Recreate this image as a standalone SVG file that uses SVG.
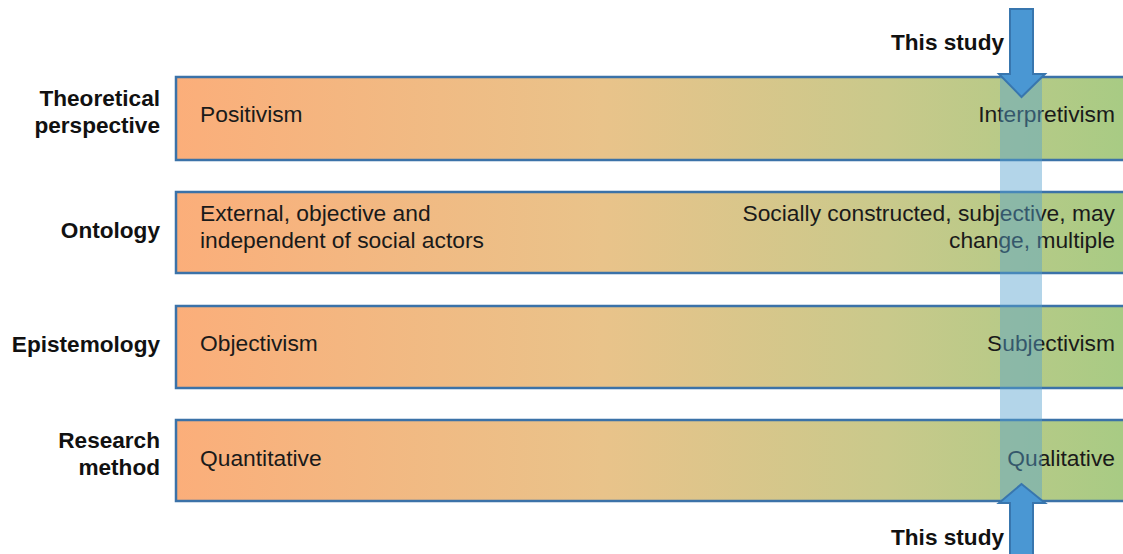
<svg xmlns="http://www.w3.org/2000/svg" width="1123" height="554" viewBox="0 0 1123 554">
  <defs>
    <linearGradient id="spectrum" gradientUnits="userSpaceOnUse" x1="176" y1="0" x2="1123" y2="0">
      <stop offset="0" stop-color="#fbae7a"/>
      <stop offset="0.45" stop-color="#e9c38a"/>
      <stop offset="0.75" stop-color="#c9c98b"/>
      <stop offset="1" stop-color="#a8cb84"/>
    </linearGradient>
  </defs>
  <style>
    .bar { fill: url(#spectrum); stroke: #3b72a8; stroke-width: 2.5; }
    .lbl { font-family: "Liberation Sans", Arial, sans-serif; font-size: 22.6px; font-weight: bold; fill: #111; text-anchor: end; }
    .txt { font-family: "Liberation Sans", Arial, sans-serif; font-size: 22.8px; fill: #1a1a1a; }
    .end { text-anchor: end; }
    .band { fill: #56a1cf; fill-opacity: 0.45; }
    .arrow { fill: #4a97d3; stroke: #3876ae; stroke-width: 2; stroke-linejoin: miter; }
  </style>

  <!-- row 1 -->
  <g id="theoretical">
    <rect class="bar" x="176" y="77" width="960" height="83"/>
    <text class="lbl" x="160" y="106">Theoretical</text>
    <text class="lbl" x="160" y="133">perspective</text>
    <text class="txt" x="200" y="122">Positivism</text>
    <text class="txt end" x="1115" y="122">Interpretivism</text>
  </g>

  <!-- row 2 -->
  <g id="ontology">
    <rect class="bar" x="176" y="192" width="960" height="81"/>
    <text class="lbl" x="160" y="238">Ontology</text>
    <text class="txt" x="200" y="221">External, objective and</text>
    <text class="txt" x="200" y="248">independent of social actors</text>
    <text class="txt end" x="1115" y="221">Socially constructed, subjective, may</text>
    <text class="txt end" x="1115" y="248">change, multiple</text>
  </g>

  <!-- row 3 -->
  <g id="epistemology">
    <rect class="bar" x="176" y="306" width="960" height="82"/>
    <text class="lbl" x="160" y="352">Epistemology</text>
    <text class="txt" x="200" y="351">Objectivism</text>
    <text class="txt end" x="1115" y="351">Subjectivism</text>
  </g>

  <!-- row 4 -->
  <g id="research-method">
    <rect class="bar" x="176" y="420" width="960" height="81"/>
    <text class="lbl" x="160" y="448">Research</text>
    <text class="lbl" x="160" y="475">method</text>
    <text class="txt" x="200" y="466">Quantitative</text>
    <text class="txt end" x="1115" y="466">Qualitative</text>
  </g>

  <!-- position marker band across all rows -->
  <g id="study-band">
    <rect class="band" x="1000" y="77" width="42" height="424"/>
  </g>

  <g id="connectors">
    <!-- downward arrow from the top -->
    <g id="arrow-top">
      <path class="arrow" d="M1010,9 H1033 V74 H1045 L1021.5,97 L999,74 H1010 Z"/>
      <text class="lbl" x="1004" y="50">This study</text>
    </g>
    <!-- upward arrow from the bottom -->
    <g id="arrow-bottom">
      <path class="arrow" d="M1010,560 V503 H999 L1021.5,484 L1045,503 H1033 V560 Z"/>
      <text class="lbl" x="1004" y="545">This study</text>
    </g>
  </g>
</svg>
